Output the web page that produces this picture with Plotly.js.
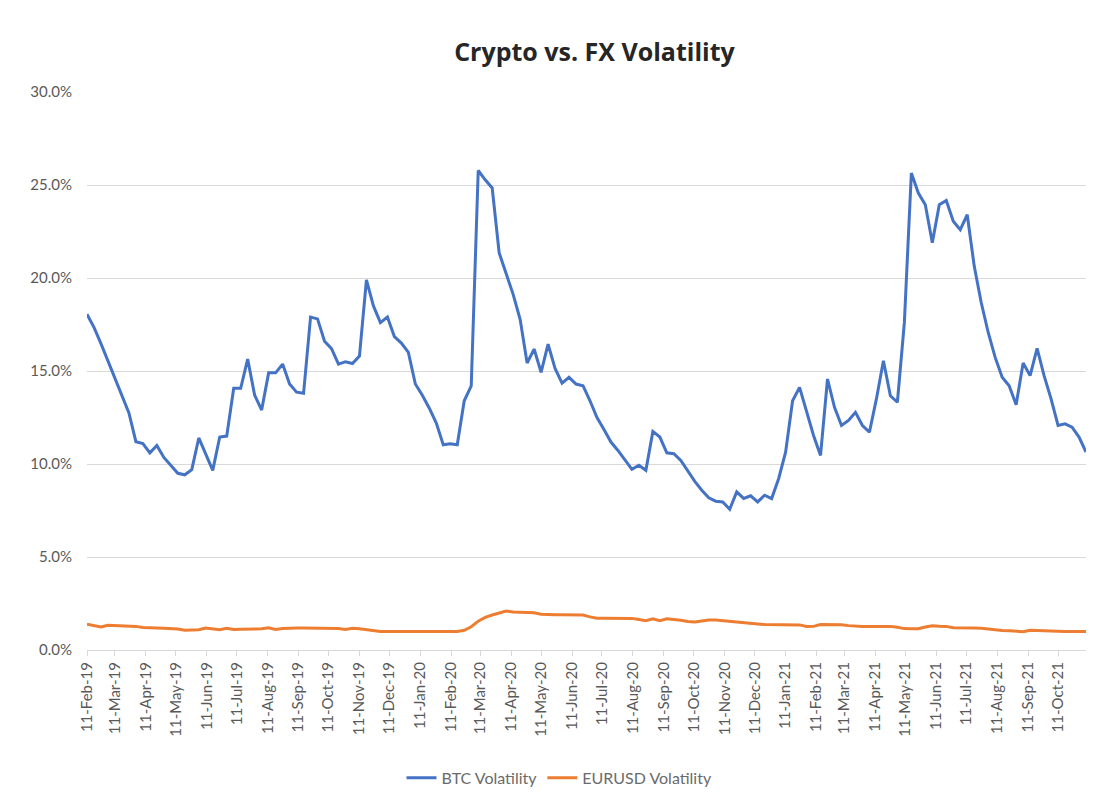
<!DOCTYPE html>
<html>
<head>
<meta charset="utf-8">
<script src="https://cdn.plot.ly/plotly-3.0.1.min.js"></script>
<style>
html,body{margin:0;padding:0;background:#fff;}
#chart{width:1096px;height:805px;}
</style>
</head>
<body>
<div id="chart"></div>
<script>
// Weekly observations starting 11-Feb-2019
const startDate = '2019-02-11';
const seriesNames = ['BTC Volatility', 'EURUSD Volatility'];

const btcVol = [
 18.05,17.35,16.47,15.55,14.63,13.71,12.75,11.2,11.1,10.6,
 11.0,10.35,9.9,9.5,9.42,9.7,11.4,10.5,9.66,11.45,
 11.5,14.07,14.07,15.64,13.7,12.9,14.9,14.9,15.37,14.3,
 13.86,13.8,17.9,17.8,16.6,16.2,15.37,15.5,15.4,15.8,
 19.9,18.5,17.6,17.9,16.85,16.5,16.0,14.3,13.7,13.0,
 12.2,11.03,11.09,11.03,13.4,14.2,25.78,25.28,24.84,21.35,
 20.28,19.12,17.78,15.43,16.18,14.93,16.44,15.14,14.35,14.66,
 14.3,14.21,13.4,12.5,11.85,11.18,10.73,10.19,9.71,9.93,
 9.66,11.75,11.45,10.6,10.55,10.19,9.6,9.07,8.59,8.18,
 8.0,7.96,7.57,8.5,8.15,8.29,7.96,8.32,8.14,9.21,
 10.64,13.4,14.12,12.78,11.53,10.46,14.57,13.05,12.07,12.34,
 12.78,12.07,11.71,13.5,15.55,13.67,13.32,17.6,25.64,24.57,
 23.94,21.9,23.94,24.17,23.05,22.6,23.4,20.64,18.68,17.07,
 15.73,14.66,14.21,13.18,15.43,14.75,16.21,14.75,13.5,12.07,
 12.16,11.98,11.45,10.64
];

const eurusdVol = [
 1.39,1.33,1.24,1.33,1.32,1.30,1.29,1.27,1.21,1.18,
 1.18,1.17,1.16,1.13,1.06,1.07,1.09,1.18,1.15,1.09,
 1.17,1.10,1.11,1.12,1.13,1.14,1.20,1.10,1.15,1.18,
 1.18,1.18,1.18,1.18,1.18,1.18,1.16,1.10,1.17,1.14,
 1.09,1.03,1.00,1.00,1.00,1.01,1.00,1.00,1.00,1.01,
 1.00,1.00,1.00,1.00,1.06,1.25,1.55,1.75,1.88,2.00,
 2.10,2.04,2.02,2.02,2.00,1.92,1.89,1.89,1.89,1.89,
 1.89,1.88,1.78,1.71,1.71,1.71,1.71,1.71,1.70,1.64,
 1.58,1.68,1.58,1.68,1.66,1.60,1.53,1.51,1.56,1.61,
 1.61,1.57,1.55,1.52,1.47,1.43,1.40,1.37,1.36,1.36,
 1.36,1.36,1.35,1.26,1.27,1.37,1.38,1.37,1.36,1.31,
 1.27,1.27,1.27,1.27,1.27,1.27,1.22,1.15,1.14,1.14,
 1.24,1.30,1.28,1.27,1.20,1.18,1.18,1.18,1.17,1.13,
 1.07,1.05,1.04,1.03,0.98,1.06,1.05,1.00,1.00,1.00,
 1.00,1.00,1.00,1.00
];

// weekly date categories
const dates = [];
{
  const d0 = new Date(startDate + 'T00:00:00Z');
  for (let i = 0; i < btcVol.length; i++) {
    const d = new Date(d0.getTime() + i * 7 * 86400000);
    dates.push(d.toISOString().slice(0, 10));
  }
}

const FONT = 'Lato, "Open Sans", sans-serif';
const traces = [
  {x: dates, y: btcVol.map(v => v / 100), name: seriesNames[0], type: 'scatter', mode: 'lines',
   line: {color: '#4472C4', width: 3}},
  {x: dates, y: eurusdVol.map(v => v / 100), name: seriesNames[1], type: 'scatter', mode: 'lines',
   line: {color: '#ED7D31', width: 3}}
];

const layout = {
  width: 1096, height: 805,
  paper_bgcolor: '#ffffff', plot_bgcolor: '#ffffff',
  margin: {l: 87, r: 10, t: 92, b: 153},
  title: {text: '<b>Crypto vs. FX Volatility</b>', font: {family: '"Open Sans", sans-serif', size: 25, color: '#262626'},
          xref: 'paper', x: 0.508, xanchor: 'center', yref: 'container', y: 0.935, yanchor: 'middle'},
  xaxis: {
    type: 'date', range: [dates[0], dates[dates.length - 1]],
    tick0: startDate, dtick: 'M1', tickformat: '%d-%b-%y', tickangle: -90,
    showgrid: false, showline: true, linecolor: '#d9d9d9', linewidth: 1,
    ticks: 'outside', ticklen: 5, tickcolor: '#d9d9d9',
    tickfont: {family: FONT, size: 15, color: '#595959'}, zeroline: false
  },
  yaxis: {
    range: [0, 0.30], dtick: 0.05, tickformat: '.1%',
    showgrid: true, gridcolor: '#d9d9d9', gridwidth: 1, zeroline: false, showline: false,
    ticks: '', ticklen: 0, ticklabelstandoff: 14,
    tickfont: {family: FONT, size: 15, color: '#595959'}
  },
  showlegend: true,
  legend: {orientation: 'h', x: 0.473, xanchor: 'center', y: -0.229, yanchor: 'middle',
           font: {family: FONT, size: 16, color: '#6b6b6b'}, bgcolor: 'rgba(0,0,0,0)'}
};

Plotly.newPlot('chart', traces, layout, {displayModeBar: false, staticPlot: true});
</script>
</body>
</html>
